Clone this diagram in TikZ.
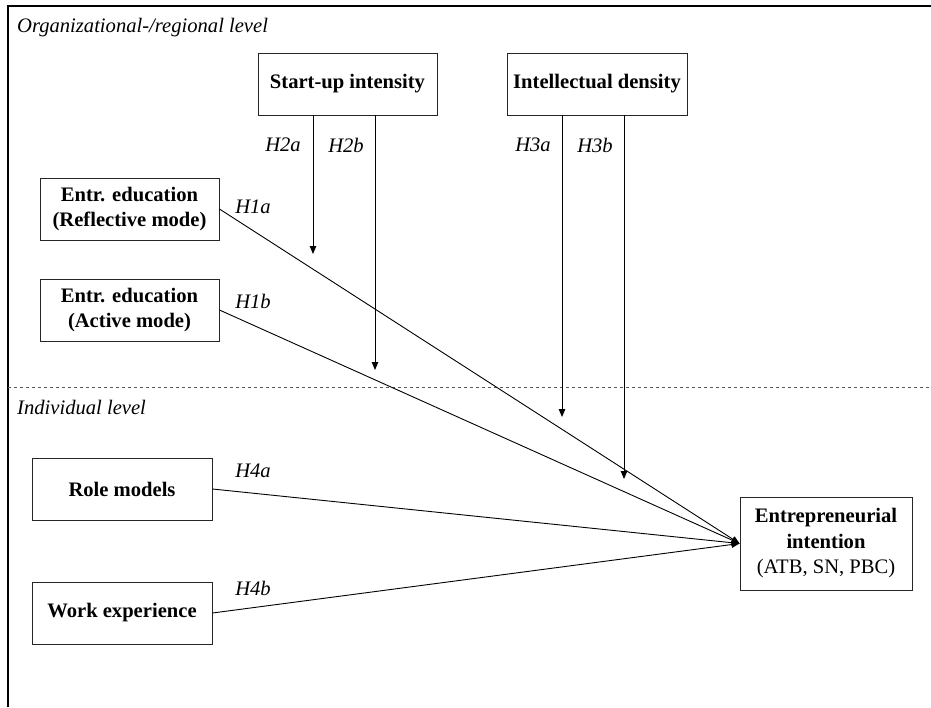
\documentclass[tikz,border=0pt]{standalone}
\usepackage{fontspec}
\setmainfont{Liberation Serif}
\usetikzlibrary{arrows.meta}
\begin{document}
\begin{tikzpicture}[x=1pt,y=-1pt,
  box/.style={draw=black!85,line width=0.9pt,inner sep=0pt,align=center,font=\fontsize{20.6}{25.5}\selectfont\bfseries},
  hyp/.style={inner sep=0pt,font=\fontsize{20.6}{25}\selectfont\itshape},
  lvl/.style={inner sep=0pt,anchor=west,font=\fontsize{20.6}{25}\selectfont\itshape},
  conn/.style={line width=0.9pt,-{Triangle[length=8pt,width=6.5pt]}}]
\useasboundingbox (0,0) rectangle (931,707);
% frame
\draw[line width=2pt] (8,707) -- (8,6) -- (931,6);
\draw[line width=0.9pt,black!65,dash pattern=on 3pt off 3pt] (8,387) -- (931,387);
\node[lvl] (orglvl) at (17,28) {Organizational-/regional level};
\node[lvl] (indlvl) at (17,407) {Individual level};
% boxes
\node[box,minimum width=179,minimum height=62] (su) at (347.5,84) {Start-up intensity};
\node[box,minimum width=180,minimum height=62] (id) at (597,84) {Intellectual density};
\node[box,minimum width=179,minimum height=62] (ref) at (129.5,209) {Entr. education\\(Reflective mode)};
\node[box,minimum width=179,minimum height=62] (act) at (129.5,310) {Entr. education\\(Active mode)};
\node[box,minimum width=180,minimum height=62] (rm) at (122,489) {Role models};
\node[box,minimum width=180,minimum height=62] (we) at (122,613) {Work experience};
\node[box,minimum width=172,minimum height=93] (ei) at (826,543.5) {Entrepreneurial\\intention\\{\mdseries (ATB, SN, PBC)}};
% moderator arrow ends
\coordinate (e2a) at (313,254);
\coordinate (e2b) at (375,370);
\coordinate (e3a) at (562,417);
\coordinate (e3b) at (624,479);
\draw[conn] (su.south -| e2a) -- (e2a);
\draw[conn] (su.south -| e2b) -- (e2b);
\draw[conn] (id.south -| e3a) -- (e3a);
\draw[conn] (id.south -| e3b) -- (e3b);
% main paths
\draw[conn] (ref.east) -- (ei.west);
\draw[conn] (act.east) -- (ei.west);
\draw[conn] (rm.east) -- (ei.west);
\draw[conn] (we.east) -- (ei.west);
% labels
\node[hyp] (h2a) at (283,145) {H2a};
\node[hyp] (h2b) at (346,145) {H2b};
\node[hyp] (h3a) at (533,145) {H3a};
\node[hyp] (h3b) at (595,145) {H3b};
\node[hyp] (h1a) at (253,207) {H1a};
\node[hyp] (h1b) at (253,301) {H1b};
\node[hyp] (h4a) at (253,471) {H4a};
\node[hyp] (h4b) at (253,588) {H4b};
\end{tikzpicture}
\end{document}
